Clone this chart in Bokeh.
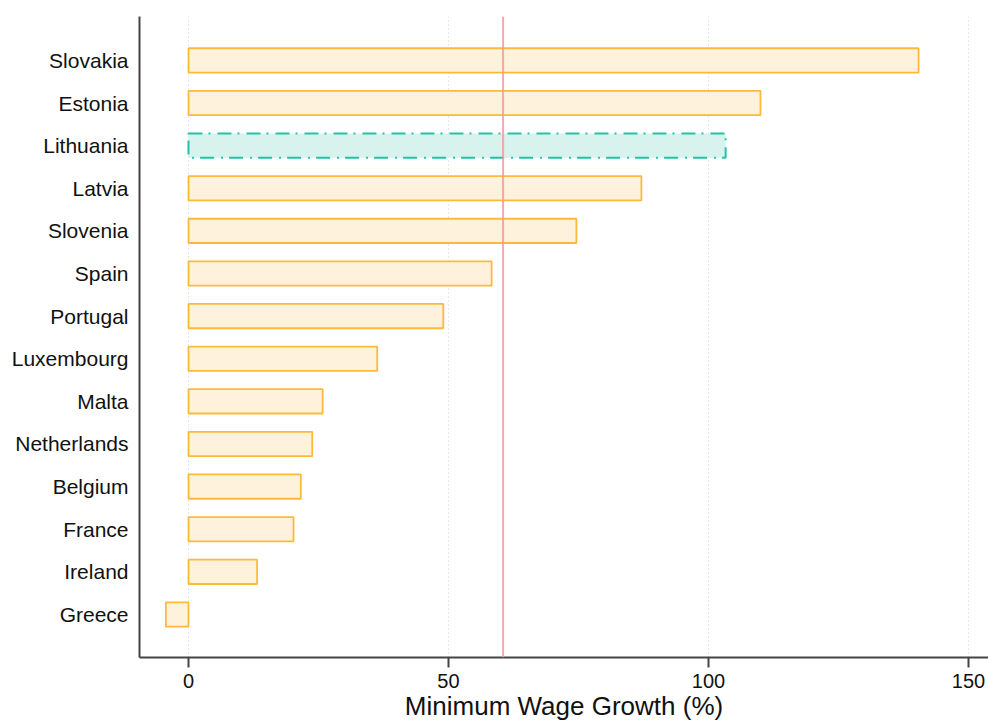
from bokeh.plotting import figure
from bokeh.models import Range1d, FixedTicker, Span, ColumnDataSource
from bokeh.embed import file_html
from bokeh.resources import INLINE

countries = ["Slovakia", "Estonia", "Lithuania", "Latvia", "Slovenia", "Spain", "Portugal",
             "Luxembourg", "Malta", "Netherlands", "Belgium", "France", "Ireland", "Greece"]
growth = [140.4, 110.0, 103.3, 87.1, 74.6, 58.3, 49.0, 36.3, 25.8, 23.8, 21.6, 20.2, 13.2, -4.35]
highlight = "Lithuania"
reference_value = 60.5
x_ticks = [0, 50, 100, 150]

n = len(countries)
ypos = [n - 1 - i for i in range(n)]

normal = dict(y=[], v=[])
hi = dict(y=[], v=[])
for c, v, y in zip(countries, growth, ypos):
    d = hi if c == highlight else normal
    d["y"].append(y)
    d["v"].append(v)

p = figure(width=988, height=723, output_backend="svg", toolbar_location=None,
           x_range=Range1d(-9.42, 153.85), y_range=Range1d(-1.01, 14.03),
           min_border_left=139, min_border_right=0, min_border_top=16, min_border_bottom=0)
p.outline_line_color = None
p.background_fill_color = "white"
p.border_fill_color = "white"

p.hbar(y="y", left=0, right="v", height=0.57, source=ColumnDataSource(normal),
       fill_color="#FFF2DC", line_color="#FFB938", line_width=1.8)
p.hbar(y="y", left=0, right="v", height=0.57, source=ColumnDataSource(hi),
       fill_color="#D8F2EE", line_color="#22C3A4", line_width=2, line_dash="14 6 2 7")

p.add_layout(Span(location=reference_value, dimension="height", line_color="#F59A9A",
                  line_width=2, line_alpha=0.85))

# x axis
p.xaxis.ticker = FixedTicker(ticks=x_ticks)
p.xaxis.axis_label = "Minimum Wage Growth (%)"
p.xaxis.axis_label_text_font = "Liberation Sans"
p.xaxis.axis_label_text_font_size = "26px"
p.xaxis.axis_label_text_font_style = "normal"
p.xaxis.axis_label_text_color = "#111111"
p.xaxis.axis_label_standoff = 0
p.xaxis.major_label_text_font = "Liberation Sans"
p.xaxis.major_label_text_font_size = "20px"
p.xaxis.major_label_text_color = "#111111"
p.xaxis.major_label_standoff = 6
p.xaxis.major_tick_out = 10
p.xaxis.major_tick_in = 0
p.xaxis.major_tick_line_color = "#444444"
p.xaxis.major_tick_line_width = 2
p.xaxis.minor_tick_line_color = None
p.xaxis.axis_line_color = "#444444"
p.xaxis.axis_line_width = 2

# y axis
p.yaxis.ticker = FixedTicker(ticks=ypos)
p.yaxis.major_label_overrides = {y: c for y, c in zip(ypos, countries)}
p.yaxis.major_label_text_font = "Liberation Sans"
p.yaxis.major_label_text_font_size = "21px"
p.yaxis.major_label_text_color = "#111111"
p.yaxis.major_label_standoff = 11
p.yaxis.major_tick_line_color = None
p.yaxis.major_tick_out = 0
p.yaxis.major_tick_in = 0
p.yaxis.minor_tick_line_color = None
p.yaxis.axis_line_color = "#444444"
p.yaxis.axis_line_width = 2

p.xgrid.ticker = FixedTicker(ticks=x_ticks)
p.xgrid.grid_line_color = "#CFCFCF"
p.xgrid.grid_line_dash = "1 3"
p.xgrid.grid_line_width = 1
p.ygrid.grid_line_color = None

open("out.html", "w").write(file_html(p, INLINE))
